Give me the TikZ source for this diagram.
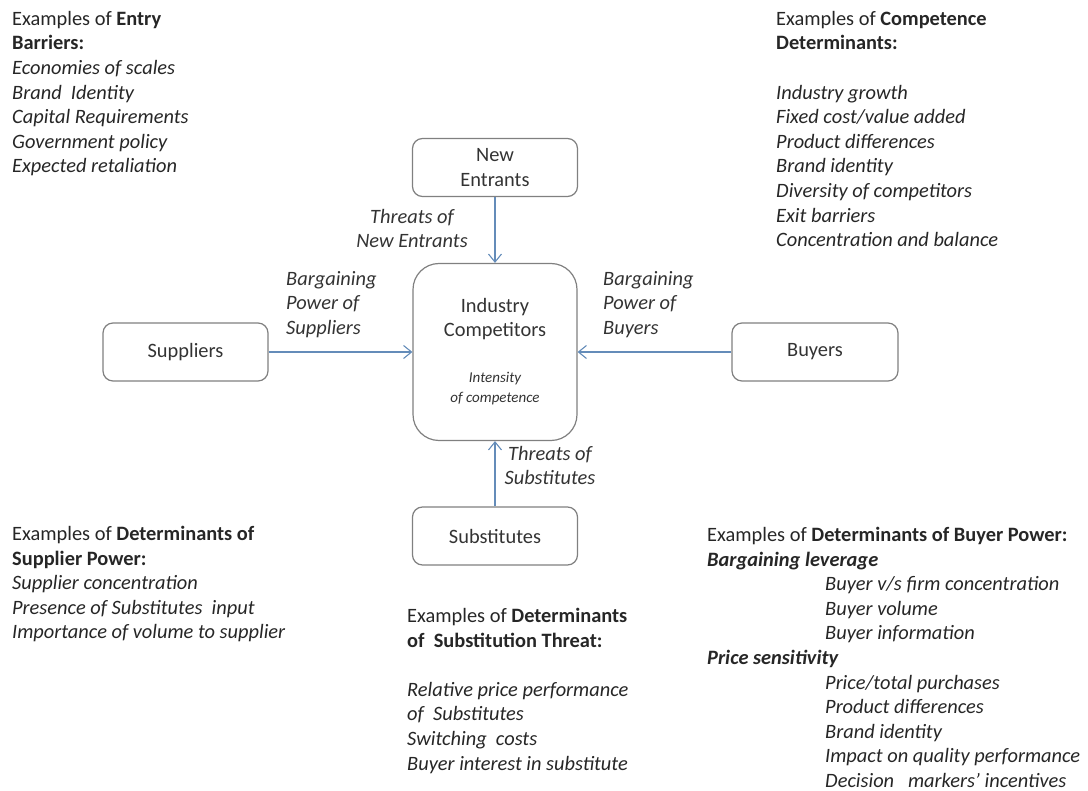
\documentclass[tikz,border=0pt]{standalone}
\usepackage{fontspec}
\setmainfont{Carlito}
\usetikzlibrary{
  arrows.meta
}
\definecolor{arrowblue}{RGB}{100,140,185}

\begin{document}
\begin{tikzpicture}[
      x=1pt,y=-1pt,
      force/.style={
         rectangle,
         rounded corners=10pt,
         line width=1.2pt,
         draw=black!50,
         minimum width=165pt,
         minimum height=58pt,
         text=black!80,
         font=\fontsize{20.4}{24.6}\selectfont,
         align=center
      },
      core/.style={
         force,
         rounded corners=26pt,
         minimum width=164pt,
         minimum height=177pt
      },
      pressure/.style={
         inner sep=0pt,
         text=black!80,
         font=\fontsize{20.4}{24.6}\selectfont\itshape
      },
      examples/.style={
         anchor=north west,
         inner sep=0pt,
         align=left,
         text=black!85,
         font=\fontsize{20.4}{24.6}\selectfont
      },
      flow/.style={draw=arrowblue,line width=1.1pt,-{Straight Barb[length=8pt,width=13pt]}}
    ]
  \useasboundingbox (0,0) rectangle (1088,791);
  % the five forces
  \node (industry) [core] at (495,352) {};
  \node (entrants) [force] at (495,167.5) {New\\Entrants};
  \node (suppliers) [force] at (185.5,352) {Suppliers};
  \node (buyers) [force,minimum width=166pt] at (815,352) {Buyers};
  \node (substitutes) [force] at (495,536) {Substitutes};
  \node (rivalry) [anchor=north,inner sep=0pt,align=center,text=black!80,
     font=\fontsize{20.4}{24.6}\selectfont] at (495,298) {Industry\\Competitors};
  \node (intensity) [anchor=north,inner sep=0pt,align=center,text=black!80,
     font=\fontsize{15}{20}\selectfont\itshape] at (495,372) {Intensity\\of competence};
  % arrows into the industry box
  \draw [flow] (entrants) -- (industry);
  \draw [flow] (suppliers) -- (industry);
  \draw [flow] (buyers) -- (industry);
  \draw [flow] (substitutes) -- (industry);
  \node (threatnew) [pressure,anchor=north,align=center] at (412,209) {Threats of\\New Entrants};
  \node (powersup) [pressure,anchor=north west,align=left] at (286,271) {Bargaining\\Power of\\Suppliers};
  \node (powerbuy) [pressure,anchor=north west,align=left] at (603,271) {Bargaining\\Power of\\Buyers};
  \node (threatsub) [pressure,anchor=north,align=center] at (550,446) {Threats of\\Substitutes};
  % examples
  \node (entry) [examples] at (12,11) {Examples of \textbf{Entry}\\
     \textbf{Barriers:}\\
     \textit{Economies of scales}\\
     \textit{Brand~ Identity}\\
     \textit{Capital Requirements}\\
     \textit{Government policy}\\
     \textit{Expected retaliation}};
  \node (competence) [examples] at (776,11) {Examples of \textbf{Competence}\\
     \textbf{Determinants:}\\[24.6pt]
     \textit{Industry growth}\\
     \textit{Fixed cost/value added}\\
     \textit{Product differences}\\
     \textit{Brand identity}\\
     \textit{Diversity of competitors}\\
     \textit{Exit barriers}\\
     \textit{Concentration and balance}};
  \node (supplierpower) [examples] at (12,526) {Examples of \textbf{Determinants of}\\
     \textbf{Supplier Power:}\\
     \textit{Supplier concentration}\\
     \textit{Presence of Substitutes~ input}\\
     \textit{Importance of volume to supplier}};
  \node (substitution) [examples] at (407,608) {Examples of \textbf{Determinants}\\
     \textbf{of~ Substitution Threat:}\\[24.6pt]
     \textit{Relative price performance}\\
     \textit{of~ Substitutes}\\
     \textit{Switching~ costs}\\
     \textit{Buyer interest in substitute}};
  \node (buyerpower) [examples] at (707,527) {Examples of \textbf{Determinants of Buyer Power:}\\
     \textbf{\textit{Bargaining leverage}}\\
     \hspace*{118pt}\textit{Buyer v/s firm concentration}\\
     \hspace*{118pt}\textit{Buyer volume}\\
     \hspace*{118pt}\textit{Buyer information}\\
     \textbf{\textit{Price sensitivity}}\\
     \hspace*{118pt}\textit{Price/total purchases}\\
     \hspace*{118pt}\textit{Product differences}\\
     \hspace*{118pt}\textit{Brand identity}\\
     \hspace*{118pt}\textit{Impact on quality performance}\\
     \hspace*{118pt}\textit{Decision~~ markers' incentives}};
\end{tikzpicture}
\end{document}
